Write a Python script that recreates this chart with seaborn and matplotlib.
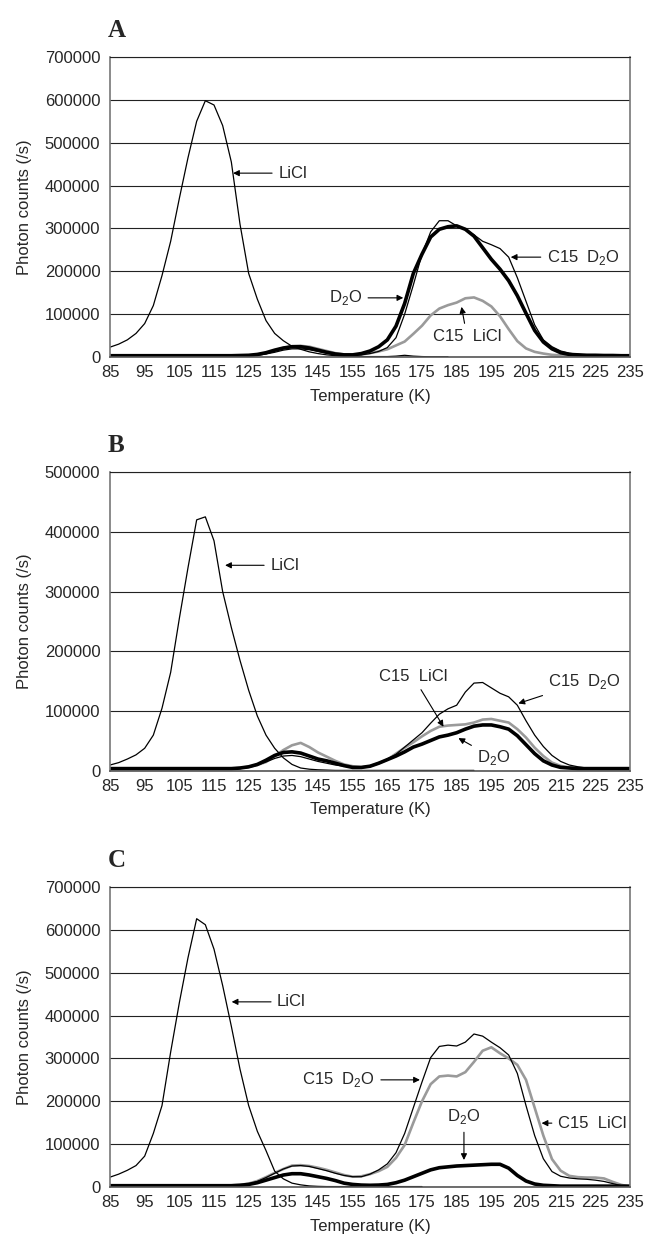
import numpy as np
import pandas as pd
import seaborn as sns
import matplotlib.pyplot as plt

# temperature grid (K) the traces were read at
temps = np.arange(85, 236, 2.5)
nan = np.nan

# photon counts, in thousands per second
# ---- panel A ----
a_licl = [23, 30, 40, 55, 78, 120, 190, 270, 370, 465,
          550, 598, 588, 540, 455, 310, 195, 135, 85, 55,
          38, 25, 18, 12, 8, 5, 3, 1.5, 1, 1,
          1, 1, 1, 2, 4, 2, 1, 0.5, 0.5, 0.5,
          nan, nan, nan, nan, nan, nan, nan, nan, nan, nan,
          nan, nan, nan, nan, nan, nan, nan, nan, nan, nan, nan]
a_c15_d2o = [2, 2, 2, 2, 2, 2, 2, 2, 2, 2,
             2, 2, 2, 2, 2, 2.5, 3, 4, 7, 11,
             16, 19, 19, 17, 13, 9, 6, 4, 4, 5,
             8, 13, 22, 45, 100, 168, 240, 292, 318, 318,
             306, 298, 285, 270, 262, 253, 233, 185, 130, 75,
             40, 24, 14, 9, 6, 5, 4, 4, 4, 3.5, 3]
a_d2o = [3, 3, 3, 3, 3, 3, 3, 3, 3, 3,
         3, 3, 3, 3, 3, 3.5, 4, 6, 10, 16,
         21, 24, 24, 21, 16, 11, 7, 5, 5, 8,
         14, 24, 40, 72, 125, 195, 240, 280, 298, 304,
         306, 298, 282, 255, 228, 205, 178, 143, 102, 62,
         35, 19, 10, 6, 5, 4, 4, 3.5, 3.5, 3, 3]
a_c15_licl = [3, 3, 3, 3, 3, 3, 3, 3, 3, 3,
              3, 3, 3, 3, 3, 3, 3.5, 5, 9, 15,
              21, 25, 26, 24, 19, 14, 9, 6, 5, 6,
              9, 13, 18, 27, 36, 54, 73, 97, 113, 121,
              127, 137, 139, 131, 118, 95, 65, 37, 20, 12,
              8, 5, 4, 4, 4, 4, 3.5, 3.5, 3, 3, 3]

# ---- panel B ----
b_licl = [10, 14, 20, 27, 38, 60, 105, 165, 255, 340,
          420, 425, 385, 300, 240, 185, 135, 92, 60, 38,
          22, 11, 5, 3, 2, 1.5, 1, 1, 1, 1,
          1, 1, 1, 1, 1, 1, 1, 1, 1, 1,
          1, 1, 1, nan, nan, nan, nan, nan, nan, nan,
          nan, nan, nan, nan, nan, nan, nan, nan, nan, nan, nan]
b_c15_d2o = [3, 3, 3, 3, 3, 3, 3, 3, 3, 3,
             3, 3, 3, 3, 3, 4, 6, 10, 15, 21,
             25, 26, 24, 20, 16, 13, 10, 8, 6, 6,
             8, 13, 20, 28, 40, 52, 64, 80, 95, 104,
             110, 132, 147, 148, 139, 130, 124, 110, 84, 60,
             41, 26, 16, 10, 7, 5, 4.5, 4.5, 4.5, 4.5, 3]
b_d2o = [4, 4, 4, 4, 4, 4, 4, 4, 4, 4,
         4, 4, 4, 4, 4, 5, 7, 11, 18, 26,
         31, 32, 30, 25, 20, 17, 13, 9, 6, 6,
         8, 13, 19, 25, 32, 40, 45, 51, 57, 60,
         64, 70, 75, 77, 77, 74, 70, 59, 44, 29,
         17, 10, 6, 5, 4, 4, 4, 4, 4, 4, 4]
b_c15_licl = [4, 4, 4, 4, 4, 4, 4, 4, 4, 4,
              4, 4, 4, 4, 4, 5, 7, 10, 15, 25,
              35, 43, 47, 40, 31, 24, 17, 11, 8, 6,
              8, 13, 19, 29, 39, 48, 58, 67, 74, 76,
              77, 78, 81, 86, 87, 84, 81, 70, 56, 39,
              25, 14, 8.5, 6, 5, 4, 4, 4, 4, 4, 4]

# ---- panel C ----
c_licl = [23, 30, 39, 50, 72, 125, 190, 315, 430, 535,
          626, 612, 555, 470, 375, 275, 190, 130, 85, 37,
          19, 9, 5, 2.5, 1.5, 1, 1, 1, 1, 1,
          1, 1, 1, 1, 1, 1, 1, nan, nan, nan,
          nan, nan, nan, nan, nan, nan, nan, nan, nan, nan,
          nan, nan, nan, nan, nan, nan, nan, nan, nan, nan, nan]
c_c15_d2o = [3, 3, 3, 3, 3, 3, 3, 3, 3, 3,
             3, 3, 3, 3, 3, 4, 7, 13, 22, 32,
             42, 49, 50, 48, 43, 38, 32, 27, 24, 24,
             30, 40, 54, 80, 125, 185, 245, 302, 328, 331,
             329, 338, 357, 352, 338, 325, 308, 265, 190, 120,
             66, 36, 25, 21, 19, 18, 16, 13, 8, 3, 1]
c_d2o = [3, 3, 3, 3, 3, 3, 3, 3, 3, 3,
         3, 3, 3, 3, 3, 4, 6, 10, 16, 22,
         28, 31, 31, 28, 24, 20, 15, 9, 6, 4.5,
         4, 4.5, 6, 10, 16, 24, 32, 40, 45, 47,
         49, 50, 51, 52, 53, 53, 44, 27, 14, 7,
         4, 3, 2, 2, 2, 2, 2, 2, 2, 2, 2]
c_c15_licl = [4, 4, 4, 4, 4, 4, 4, 4, 4, 4,
              4, 4, 4, 4, 4, 5, 8, 14, 23, 33,
              42, 50, 51, 49, 45, 40, 34, 28, 24, 25,
              30, 37, 47, 68, 98, 150, 200, 240, 258, 260,
              258, 268, 292, 318, 326, 312, 300, 285, 250, 185,
              120, 65, 38, 26, 23, 22, 22, 20, 12, 5, 1]

sns.set_style("white")
plt.rcParams['font.family'] = ['Liberation Sans', 'DejaVu Sans']
plt.rcParams['font.size'] = 12

styles = {
    'C15 LiCl': dict(color='#9a9a9a', linewidth=1.9),
    'C15 D2O': dict(color='black', linewidth=0.9),
    'LiCl': dict(color='black', linewidth=0.9),
    'D2O': dict(color='black', linewidth=2.6),
}

D2O = r'D$_{\mathregular{2}}$O'


def draw(ax, series, ymax, notes):
    for name, vals in series:
        y = np.array(vals, dtype=float) * 1000
        sns.lineplot(x=temps, y=y, ax=ax, errorbar=None, solid_joinstyle='round',
                     **styles[name])
    ax.set_xlim(85, 235)
    ax.set_ylim(0, ymax)
    ax.set_xticks(range(85, 236, 10))
    yt = list(range(0, ymax + 1, 100000))
    ax.set_yticks(yt)
    ax.set_yticklabels([str(v) for v in yt])
    ax.grid(axis='y', color='#222222', linewidth=0.8)
    ax.grid(axis='x', visible=False)
    for s in ['left', 'right']:
        ax.spines[s].set_color('#777777')
        ax.spines[s].set_linewidth(1.2)
    ax.spines['top'].set_color('#222222')
    ax.spines['top'].set_linewidth(0.8)
    ax.spines['bottom'].set_color('#555555')
    ax.spines['bottom'].set_linewidth(1.2)
    ax.tick_params(axis='both', direction='out', length=4, width=0.9,
                   color='#666666', labelsize=12, pad=2)
    ax.tick_params(axis='y', pad=3)
    ax.set_xlabel('Temperature (K)', fontsize=12)
    ax.set_ylabel('Photon counts (/s)', fontsize=12)
    ax.xaxis.set_label_coords(0.5, -0.105)
    ax.yaxis.set_label_coords(-0.15, 0.5)
    for text, xy, xytext, ha in notes:
        ax.annotate(text, xy=xy, xytext=xytext, ha=ha, va='center', fontsize=12,
                    arrowprops=dict(arrowstyle='-|>', color='black', lw=0.8,
                                    mutation_scale=9, shrinkA=2, shrinkB=0))


fig = plt.figure(figsize=(6.47, 12.36), dpi=100)
W, H = 647.0, 1236.0
panels = [
    ('A', 57, 300, 700000,
     [('C15 LiCl', a_c15_licl), ('C15 D2O', a_c15_d2o), ('LiCl', a_licl), ('D2O', a_d2o)],
     [('LiCl', (120.5, 429000), (133.5, 429000), 'left'),
      ('C15  ' + D2O, (200.6, 233000), (211, 233000), 'left'),
      (D2O, (169.6, 138000), (157.7, 138000), 'right'),
      ('C15  LiCl', (186.4, 117000), (188, 47000), 'center')]),
    ('B', 472, 299, 500000,
     [('C15 LiCl', b_c15_licl), ('C15 D2O', b_c15_d2o), ('LiCl', b_licl), ('D2O', b_d2o)],
     [('LiCl', (118.2, 344000), (131.2, 344000), 'left'),
      ('C15  LiCl', (181.2, 74000), (172.4, 158000), 'center'),
      ('C15  ' + D2O, (202.8, 113000), (211.3, 149000), 'left'),
      (D2O, (185.5, 55000), (190.9, 22000), 'left')]),
    ('C', 887, 300, 700000,
     [('C15 LiCl', c_c15_licl), ('C15 D2O', c_c15_d2o), ('LiCl', c_licl), ('D2O', c_d2o)],
     [('LiCl', (120.1, 432000), (133.2, 432000), 'left'),
      ('C15  ' + D2O, (174.4, 250000), (161.4, 250000), 'right'),
      (D2O, (187.1, 63000), (187.1, 164000), 'center'),
      ('C15  LiCl', (209.5, 149000), (214.2, 149000), 'left')]),
]

for letter, top, height, ymax, series, notes in panels:
    ax = fig.add_axes([110 / W, 1 - (top + height) / H, 520 / W, height / H])
    draw(ax, series, ymax, notes)
    fig.text(108 / W, 1 - (top - 20) / H, letter, fontsize=18, fontweight='bold',
             family='Liberation Serif', ha='left', va='baseline')

fig.savefig('out.png', dpi=100)
